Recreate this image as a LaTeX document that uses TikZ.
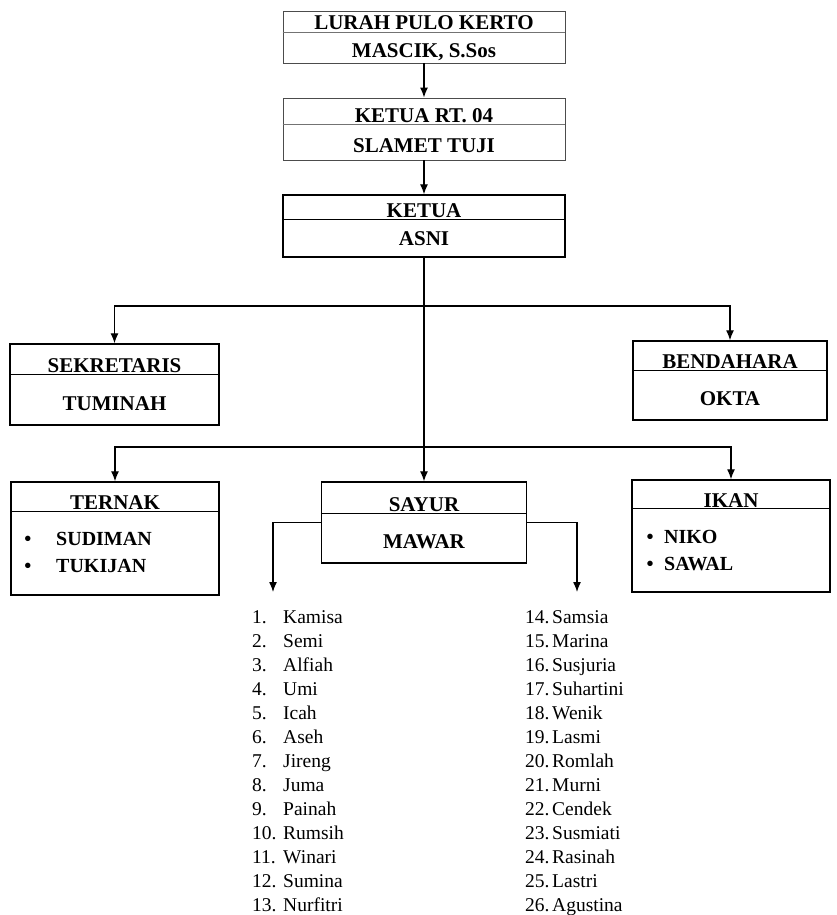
\documentclass[tikz,border=0pt]{standalone}
\usepackage{fontspec}
\setmainfont{Liberation Serif}
\usetikzlibrary{arrows.meta,calc}
\begin{document}
\begin{tikzpicture}[x=1pt,y=-1pt,
 box/.style={draw, line width=1.4pt, rectangle, inner sep=0pt},
 topbox/.style={draw=black!70, line width=0.9pt, rectangle, inner sep=0pt},
 sepline/.style={line width=1.2pt},
 topsep/.style={draw=black!55, line width=0.8pt},
 ttl/.style={font=\fontsize{21}{21}\selectfont\bfseries, anchor=base, inner sep=0pt},
 itm/.style={font=\fontsize{20}{20}\selectfont\bfseries, anchor=base west, inner sep=0pt},
 bul/.style={font=\fontsize{20}{20}\selectfont\bfseries, anchor=base, inner sep=0pt},
 lst/.style={font=\fontsize{19.5}{20}\selectfont, anchor=base west, inner sep=0pt},
 conn/.style={line width=1.3pt},
 arr/.style={conn, -{Latex[length=10pt,width=8pt]}}]
\useasboundingbox (0,0) rectangle (836,915);
\fill[white] (0,0) rectangle (836,915);

% boxes
\node[topbox, minimum width=282pt, minimum height=52pt] (lurah) at (424,37) {};
\node[topbox, minimum width=282pt, minimum height=62pt] (rt) at (424,129) {};
\node[box, minimum width=282pt, minimum height=62pt] (ketua) at (424,226) {};
\node[box, minimum width=209pt, minimum height=81pt] (sek) at (114.5,384.5) {};
\node[box, minimum width=194pt, minimum height=79pt] (ben) at (730,380.5) {};
\node[box, minimum width=208pt, minimum height=113pt] (ternak) at (115,538.5) {};
\node[box, minimum width=205pt, minimum height=81pt] (sayur) at (424,522.5) {};
\node[box, minimum width=198pt, minimum height=112pt] (ikan) at (731,536) {};

% separators
\draw[topsep] ($(lurah.north west)+(0,22)$) -- ($(lurah.north east)+(0,22)$);
\draw[topsep] ($(rt.north west)+(0,27)$) -- ($(rt.north east)+(0,27)$);
\draw[sepline] ($(ketua.north west)+(0,25)$) -- ($(ketua.north east)+(0,25)$);
\draw[sepline] ($(sek.north west)+(0,31)$) -- ($(sek.north east)+(0,31)$);
\draw[sepline] ($(ben.north west)+(0,30)$) -- ($(ben.north east)+(0,30)$);
\draw[sepline] ($(ternak.north west)+(0,30)$) -- ($(ternak.north east)+(0,30)$);
\draw[sepline] ($(sayur.north west)+(0,32)$) -- ($(sayur.north east)+(0,32)$);
\draw[sepline] ($(ikan.north west)+(0,29)$) -- ($(ikan.north east)+(0,29)$);

% texts
\node[ttl] (t1) at (424,30) {LURAH PULO KERTO};
\node[ttl] (t2) at (424,58) {MASCIK, S.Sos};
\node[ttl] (t3) at (424,122) {KETUA RT. 04};
\node[ttl] (t4) at (424,152) {SLAMET TUJI};
\node[ttl] (t5) at (424,217) {KETUA};
\node[ttl] (t6) at (424,245) {ASNI};
\node[ttl] (t7) at (114.5,372) {SEKRETARIS};
\node[ttl] (t8) at (114.5,410) {TUMINAH};
\node[ttl] (t9) at (730,368) {BENDAHARA};
\node[ttl] (t10) at (730,405) {OKTA};
\node[ttl] (t11) at (115,509) {TERNAK};
\node[ttl] (t12) at (424,511) {SAYUR};
\node[ttl] (t13) at (424,548) {MAWAR};
\node[ttl] (t14) at (731,507) {IKAN};
\node[bul] (b1) at (28,545) {\textbullet};
\node[itm] (i1) at (56,545) {SUDIMAN};
\node[bul] (b2) at (28,572) {\textbullet};
\node[itm] (i2) at (56,572) {TUKIJAN};
\node[bul] (b3) at (650,543) {\textbullet};
\node[itm] (i3) at (664,543) {NIKO};
\node[bul] (b4) at (650,570) {\textbullet};
\node[itm] (i4) at (664,570) {SAWAL};

% lists
\foreach \n [count=\i] in {Kamisa,Semi,Alfiah,Umi,Icah,Aseh,Jireng,Juma,Painah,Rumsih,Winari,Sumina,Nurfitri}
  \node[lst] (l\i) at (252,{623+(\i-1)*24.08}) {\makebox[31pt][l]{\i.}\n};
\foreach \n [count=\i from 14] in {Samsia,Marina,Susjuria,Suhartini,Wenik,Lasmi,Romlah,Murni,Cendek,Susmiati,Rasinah,Lastri,Agustina}
  \node[lst] (l\i) at (525,{623+(\i-14)*24.08}) {\makebox[27pt][l]{\i.}\n};

% connectors
\coordinate (y1) at (0,306);
\coordinate (y2) at (0,447);
\coordinate (bus1) at (ketua.south |- y1);
\coordinate (bus2) at (ketua.south |- y2);
\coordinate (tipL) at (273,592);
\coordinate (tipR) at (577,592);

\draw[arr] (lurah.south) -- (rt.north);
\draw[arr] (rt.south) -- (ketua.north);
\draw[arr] (ketua.south) -- (sayur.north);
\draw[arr] (bus1) -| (sek.north);
\draw[arr] (bus1) -| (ben.north);
\draw[arr] (bus2) -| (ternak.north);
\draw[arr] (bus2) -| (ikan.north);
\draw[arr] (sayur.west) -| (tipL);
\draw[arr] (sayur.east) -| (tipR);
\end{tikzpicture}
\end{document}
